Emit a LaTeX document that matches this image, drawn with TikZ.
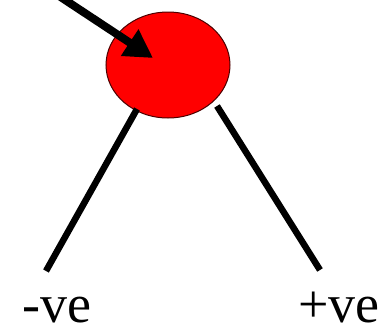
\documentclass[tikz,border=0pt]{standalone}
\usepackage{fontspec}
\setmainfont{Liberation Serif}
\usetikzlibrary{arrows.meta,shapes.geometric}
\begin{document}
\begin{tikzpicture}[x=1pt,y=-1pt,
  stick/.style={line width=6.5pt},
  lbl/.style={font=\fontsize{54}{54}\selectfont, inner sep=0pt, anchor=base}]
\useasboundingbox (0,0) rectangle (392,330);
\clip (0,0) rectangle (392,330);
\node[ellipse, draw=black!70!red, line width=1pt, fill=red, minimum width=124pt, minimum height=106pt, inner sep=0pt] (ball) at (168,65) {};
\coordinate (src) at (50,-10);
\coordinate (tip) at (153,58);
\draw[line width=8pt, -{Triangle[length=28pt,width=30pt]}] (src) -- (tip);
\coordinate (l1) at (137,109);
\coordinate (l2) at (46,271);
\coordinate (r1) at (217,106);
\coordinate (r2) at (320,270);
\draw[stick] (l1) -- (l2);
\draw[stick] (r1) -- (r2);
\node[lbl] (neg) at (57,322) {-ve};
\node[lbl] (pos) at (339,322) {+ve};
\end{tikzpicture}
\end{document}
